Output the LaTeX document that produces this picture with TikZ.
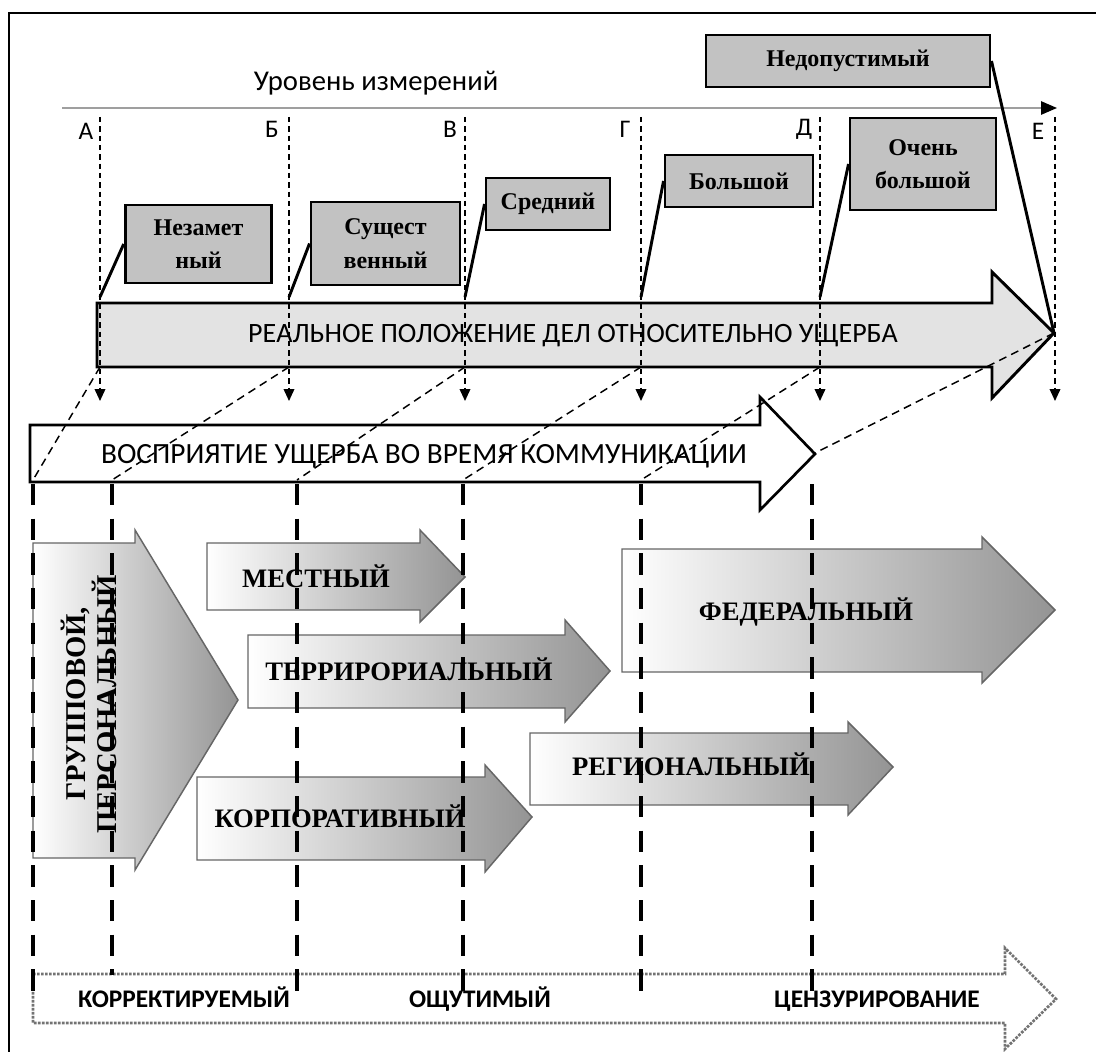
\documentclass[tikz,border=0pt]{standalone}
\usepackage{fontspec}
\setmainfont{Liberation Serif}
\newfontfamily\calib{Carlito}
\usetikzlibrary{arrows.meta}
\begin{document}
\begin{tikzpicture}[x=0.75pt,y=-0.75pt,
  frameline/.style={line width=2.2pt},
  graybox/.style={draw=black,line width=2.2pt,fill=gray!48,align=center,inner sep=0pt,
     font=\bfseries\fontsize{18}{25}\selectfont},
  lvl/.style={font=\calib\fontsize{19}{21}\selectfont},
  vdash/.style={line width=1.2pt,dash pattern=on 4pt off 3pt,-{Triangle[length=9pt,width=8pt]}},
  conn/.style={line width=2.2pt},
  diag/.style={line width=1.1pt,dash pattern=on 6pt off 4pt},
  bigarrow/.style={draw=black,line width=2.2pt,fill=gray!22},
  wharrow/.style={draw=black,line width=2pt,fill=white},
  garrow/.style={draw=black!60,line width=1.1pt,left color=white,right color=black!42},
  gtext/.style={font=\bfseries\fontsize{20}{22}\selectfont,anchor=base},
  ldash/.style={line width=2.6pt,dash pattern=on 16pt off 10pt},
  botarrow/.style={draw=black!55,line width=2pt,densely dotted},
  btext/.style={font=\calib\bfseries\fontsize{19}{21}\selectfont,anchor=base}
]
\useasboundingbox (0,0) rectangle (1096,1052);
% frame
\draw[frameline] (1096,13) -- (9,13) -- (9,1052);

% axis
\coordinate (ax0) at (62,108);
\coordinate (ax1) at (1057,108);
\draw[gray!75,line width=1.3pt,-{Triangle[black,length=12pt,width=10pt]}] (ax0) -- (ax1);
\node[font=\calib\fontsize{21.5}{24}\selectfont] (title) at (376,83) {Уровень измерений};

% level labels
\node[lvl] (lA) at (86,131) {А};
\node[lvl] (lB) at (272,129) {Б};
\node[lvl] (lV) at (450,129) {В};
\node[lvl] (lG) at (625,129) {Г};
\node[lvl] (lD) at (804,129) {Д};
\node[lvl] (lE) at (1038,131) {Е};

% big arrow (real situation)
\path[bigarrow] (97,303) -- (992,303) -- (992,272) -- (1054,333) -- (992,398) -- (992,367) -- (97,367) -- cycle;
\node[font=\calib\fontsize{21}{24}\selectfont] (real) at (573,336) {РЕАЛЬНОЕ ПОЛОЖЕНИЕ ДЕЛ ОТНОСИТЕЛЬНО УЩЕРБА};
\coordinate (tipR) at (1054,333);

% perception arrow
\path[wharrow] (30,425) -- (760,425) -- (760,397) -- (815,454) -- (760,510) -- (760,482) -- (30,482) -- cycle;
\node[font=\calib\fontsize{22}{24}\selectfont] (perc) at (424,456) {ВОСПРИЯТИЕ УЩЕРБА ВО ВРЕМЯ КОММУНИКАЦИИ};
\coordinate (tipP) at (813,454);

% vertical dashed level lines
\foreach \n/\x in {A/100,B/289,V/465,G/641,D/820,E/1055}{
  \coordinate (t\n) at (\x,117);
  \coordinate (m\n) at (\x,297);
  \coordinate (u\n) at (\x,367);
  \coordinate (b\n) at (\x,401);
  \draw[vdash] (t\n) -- (b\n);
}

% gray boxes
\node[graybox,minimum width=110pt,minimum height=58.5pt] (nez) at (198.5,244) {Незамет\\ный};
\node[graybox,minimum width=111.75pt,minimum height=62.25pt] (sus) at (385.5,243.5) {Сущест\\венный};
\node[graybox,minimum width=93pt,minimum height=39pt] (sre) at (548,204) {Средний};
\node[graybox,minimum width=111pt,minimum height=39pt] (bol) at (739,181) {Большой};
\node[graybox,minimum width=109.5pt,minimum height=69pt] (och) at (923,164) {Очень\\большой};
\node[graybox,minimum width=213pt,minimum height=39pt] (ned) at (848,61) {Недопустимый};

\draw[conn] (mA) -- (nez.west);
\draw[conn] (mB) -- (sus.west);
\draw[conn] (mV) -- (sre.west);
\draw[conn] (mG) -- (bol.west);
\draw[conn] (mD) -- (och.west);
\draw[conn] (ned.east) -- (tipR);

% diagonal dashed lines
\coordinate (pA) at (33,480);
\coordinate (pB) at (112,480);
\coordinate (pV) at (297,480);
\coordinate (pG) at (463,480);
\coordinate (pD) at (641,480);
\draw[diag] (uA) -- (pA);
\draw[diag] (uB) -- (pB);
\draw[diag] (uV) -- (pV);
\draw[diag] (uG) -- (pG);
\draw[diag] (uD) -- (pD);
\draw[diag] (tipR) -- (tipP);

% gradient arrows
\path[garrow] (33,543) -- (135,543) -- (135,530) -- (238,700) -- (135,870) -- (135,858) -- (33,858) -- cycle;
\node[rotate=90,align=center,font=\bfseries\fontsize{21.5}{23}\selectfont] (grp) at (89,704) {ГРУППОВОЙ,\\ПЕРСОНАЛЬНЫЙ};

\path[garrow] (207,543) -- (420,543) -- (420,530) -- (465,577) -- (420,622) -- (420,610) -- (207,610) -- cycle;
\node[gtext] (mes) at (316,587) {МЕСТНЫЙ};

\path[garrow] (248,635) -- (565,635) -- (565,620) -- (610,671) -- (565,722) -- (565,708) -- (248,708) -- cycle;
\node[gtext] (ter) at (409,680) {ТЕРРИРОРИАЛЬНЫЙ};

\path[garrow] (197,777) -- (485,777) -- (485,765) -- (532,817) -- (485,872) -- (485,860) -- (197,860) -- cycle;
\node[gtext] (kor) at (340,827) {КОРПОРАТИВНЫЙ};

\path[garrow] (530,733) -- (848,733) -- (848,722) -- (893,767) -- (848,815) -- (848,805) -- (530,805) -- cycle;
\node[gtext] (reg) at (691,775) {РЕГИОНАЛЬНЫЙ};

\path[garrow] (622,549) -- (982,549) -- (982,537) -- (1055,610) -- (982,683) -- (982,672) -- (622,672) -- cycle;
\node[gtext] (fed) at (806,620) {ФЕДЕРАЛЬНЫЙ};

% bottom dotted arrow
\path[botarrow] (33,974) -- (1005,974) -- (1005,948) -- (1056,999) -- (1005,1049) -- (1005,1023) -- (33,1023) -- cycle;
\node[btext] (korr) at (184,1007) {КОРРЕКТИРУЕМЫЙ};
\node[btext] (osh) at (480,1007) {ОЩУТИМЫЙ};
\node[btext] (cen) at (877,1007) {ЦЕНЗУРИРОВАНИЕ};

% long dashed lines
\foreach \n/\x/\e in {A/33/1000,B/112/975,V/297/1003,G/463/1003,D/641/1003,E/812/1003}{
  \coordinate (q\n) at (\x,484);
  \coordinate (r\n) at (\x,\e);
  \draw[ldash] (q\n) -- (r\n);
}
\end{tikzpicture}
\end{document}
